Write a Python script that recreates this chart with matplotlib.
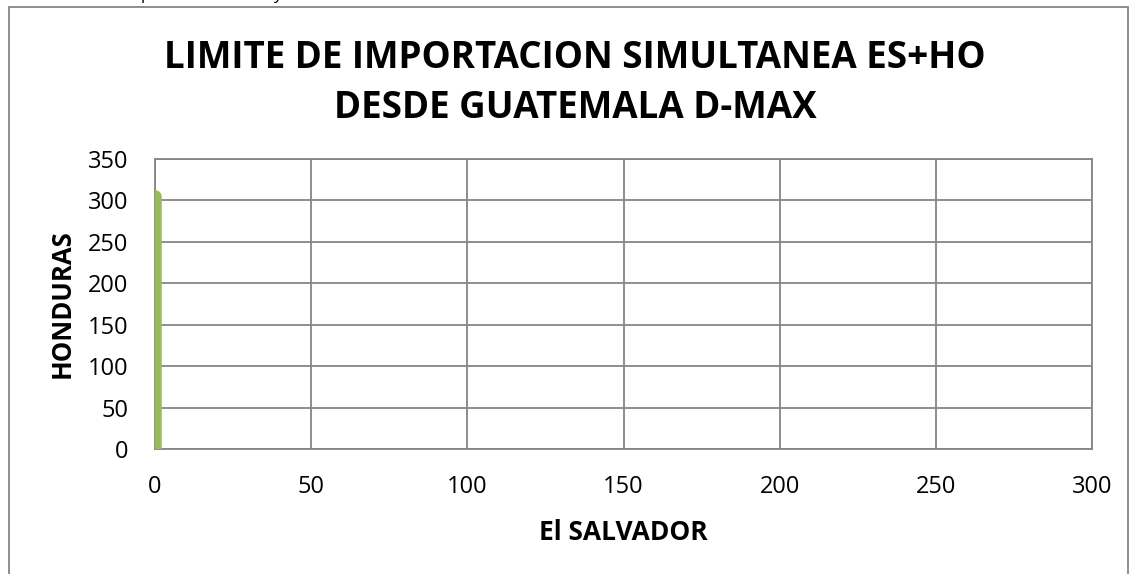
import matplotlib.pyplot as plt
from matplotlib.patches import Rectangle

# data
el_salvador = [0, 0]
honduras = [0, 305]
x_ticks = [0, 50, 100, 150, 200, 250, 300]
y_ticks = [0, 50, 100, 150, 200, 250, 300, 350]

plt.rcParams['font.family'] = ['Open Sans', 'DejaVu Sans']

fig = plt.figure(figsize=(11.34, 5.74), dpi=100)
W, H = 1134, 574
ax = fig.add_axes([155 / W, 1 - 449 / H, (1092 - 155) / W, (449 - 159) / H])

ax.plot(el_salvador, honduras, color='#9bbb59', lw=9, solid_capstyle='round', zorder=3)

ax.set_xlim(0, 300)
ax.set_ylim(0, 350)
ax.set_xticks(x_ticks)
ax.set_yticks(y_ticks)
ax.grid(True, color='#868686', lw=1.3)
ax.set_axisbelow(True)
for s in ax.spines.values():
    s.set_color('#868686')
    s.set_linewidth(1.3)
ax.tick_params(axis='y', length=0, labelsize=17, pad=19)
ax.tick_params(axis='x', length=0, labelsize=17, pad=19)

ax.set_xlabel('El SALVADOR', fontsize=19, fontweight='bold', labelpad=14)
ax.set_ylabel('HONDURAS', fontsize=18.5, fontweight='bold', labelpad=9)

fig.text(575 / W, 1 - 83 / H, 'LIMITE DE IMPORTACION SIMULTANEA ES+HO\nDESDE GUATEMALA D-MAX',
         ha='center', va='center', fontsize=26.5, fontweight='bold', linespacing=1.4)

# bits of the surrounding page text cut off at the top edge
fig.text(146 / W, 1 + 1 / H, 'p', ha='center', va='baseline', fontsize=12)
fig.text(277 / W, 1 + 1 / H, 'y', ha='center', va='baseline', fontsize=12)

# chart frame
fig.patches.append(Rectangle((8.5 / W, -0.1), (1128 - 8.5) / W, 1.1 - 6.5 / H,
                             transform=fig.transFigure, fill=False,
                             edgecolor='#868686', lw=1.3))

fig.savefig('out.png', dpi=100)
